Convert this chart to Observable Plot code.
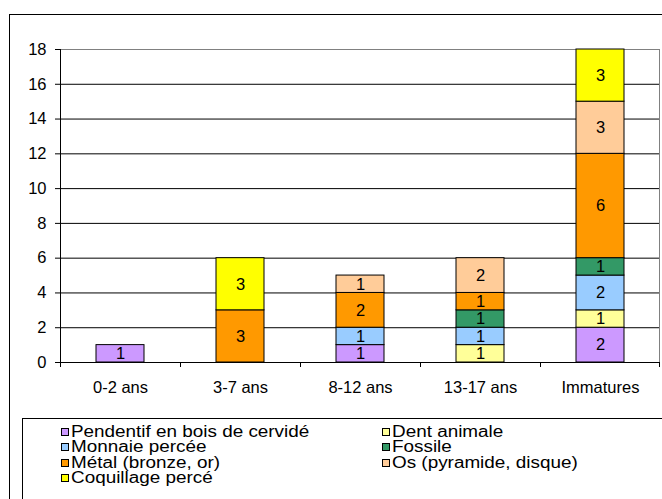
<!DOCTYPE html>
<html>
<head>
<meta charset="utf-8">
<script src="https://cdn.jsdelivr.net/npm/d3@7"></script>
<script src="https://cdn.jsdelivr.net/npm/@observablehq/plot@0.6"></script>
<style>
  html, body { margin: 0; padding: 0; background: #fff; }
  #wrap { position: relative; width: 662px; height: 499px; overflow: hidden; background: #fff; font-family: "Liberation Sans", Arial, sans-serif; }
  #chart { position: absolute; left: 0; top: 0; }
  #frame { position: absolute; left: 9px; top: 14px; width: 700px; height: 600px; border: 1px solid #000; pointer-events: none; }
  #legend { position: absolute; left: 22px; top: 418px; width: 700px; height: 200px; border: 1px solid #000; }
  .item { position: absolute; display: flex; align-items: center; height: 16px; font-size: 16px; color: #000; white-space: nowrap; }
  .sw { width: 6px; height: 6px; border: 1px solid #000; margin-right: 2px; flex: none; }
  .lt { display: inline-block; transform: scaleX(1.18); transform-origin: left center; }
</style>
</head>
<body>
<div id="wrap">
  <div id="chart"></div>
  <div id="legend"></div>
  <div id="frame"></div>
</div>
<script>
const categories = ["0-2 ans", "3-7 ans", "8-12 ans", "13-17 ans", "Immatures"];
const series = ["Pendentif en bois de cervidé", "Dent animale", "Monnaie percée", "Fossile", "Métal (bronze, or)", "Os (pyramide, disque)", "Coquillage percé"];
const colors = ["#CC99FF", "#FFFF99", "#99CCFF", "#339966", "#FF9900", "#FFCC99", "#FFFF00"];
const pendentif = [1, 0, 1, 0, 2];
const dent = [0, 0, 0, 1, 1];
const monnaie = [0, 0, 1, 1, 2];
const fossile = [0, 0, 0, 1, 1];
const metal = [0, 3, 2, 1, 6];
const os = [0, 0, 1, 2, 3];
const coquillage = [0, 3, 0, 0, 3];
const yTicks = [0, 2, 4, 6, 8, 10, 12, 14, 16, 18];

const seriesValues = [pendentif, dent, monnaie, fossile, metal, os, coquillage];
const data = [];
series.forEach((s, si) => {
  categories.forEach((c, ci) => {
    const v = seriesValues[si][ci];
    if (v > 0) data.push({cat: c, series: s, value: v});
  });
});

const plot = Plot.plot({
  width: 662,
  height: 410,
  marginLeft: 60,
  marginRight: 2,
  marginTop: 49,
  marginBottom: 48,
  style: {fontFamily: "Liberation Sans, Arial, sans-serif", fontSize: "16.5px", background: "transparent", color: "#000"},
  x: {domain: categories, padding: 0, label: null},
  y: {domain: [0, 18], label: null},
  color: {domain: series, range: colors, legend: false},
  marks: [
    Plot.gridY(yTicks.filter(v => v > 0 && v < 18), {stroke: "#000", strokeOpacity: 1}),
    Plot.ruleY([18], {stroke: "#808080"}),
    Plot.barY(data, {x: "cat", y: "value", fill: "series", stroke: "#000", strokeWidth: 1, insetLeft: 36, insetRight: 36, order: series}),
    Plot.text(data, Plot.stackY({x: "cat", y: "value", z: "series", order: series, text: d => String(d.value), fill: "#000", fontSize: 16.5})),
    Plot.ruleY([0], {stroke: "#000"}),
    Plot.axisY(yTicks, {tickSize: 5, tickPadding: 9, fontSize: 16.5, label: null}),
    Plot.axisX({tickSize: 0, tickPadding: 19, fontSize: 16.5, label: null})
  ]
});
document.getElementById("chart").appendChild(plot);

// axis lines and category-boundary ticks, positioned from the plot's own scales
const xs = plot.scale("x");
const ys = plot.scale("y");
const bounds = categories.map(c => xs.apply(c)).concat([xs.apply(categories[categories.length - 1]) + xs.bandwidth]);
const y0 = ys.apply(0), yTop = ys.apply(18);
const g = d3.select(plot).append("g");
g.append("line").attr("x1", bounds[bounds.length - 1] - 0.5).attr("x2", bounds[bounds.length - 1] - 0.5).attr("y1", yTop).attr("y2", y0).attr("stroke", "#808080");
g.append("line").attr("x1", bounds[0] + 0.5).attr("x2", bounds[0] + 0.5).attr("y1", yTop).attr("y2", y0).attr("stroke", "#000");
bounds.forEach((b, i) => {
  const xx = i === bounds.length - 1 ? b - 0.5 : b + 0.5;
  g.append("line").attr("x1", xx).attr("x2", xx).attr("y1", y0).attr("y2", y0 + 5).attr("stroke", "#000");
});

// legend
const legend = document.getElementById("legend");
series.forEach((s, i) => {
  const row = Math.floor(i / 2), col = i % 2;
  const item = document.createElement("div");
  item.className = "item";
  item.style.left = (col === 0 ? 38 : 359) + "px";
  item.style.top = (5 + row * 15.4) + "px";
  const sw = document.createElement("div");
  sw.className = "sw";
  sw.style.background = colors[i];
  item.appendChild(sw);
  const t = document.createElement("span");
  t.className = "lt";
  t.textContent = s;
  item.appendChild(t);
  legend.appendChild(item);
});
</script>
</body>
</html>
